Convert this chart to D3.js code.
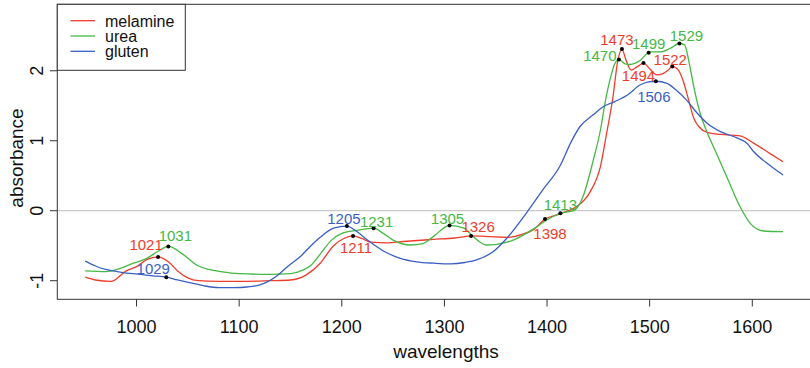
<!DOCTYPE html>
<html>
<head>
<meta charset="utf-8">
<script src="https://cdn.jsdelivr.net/npm/d3@7"></script>
<style>
  body { margin: 0; background: #fff; }
  text { font-family: "Liberation Sans", Arial, Helvetica, sans-serif; }
</style>
</head>
<body>
<div id="app"></div>
<script>
// spectra
var melamineWl  = [950,960,975,990,1000,1010,1021,1031,1040,1050,1060,1080,1100,1130,1150,1165,1179,1192,1203,1211,1220,1228,1244,1260,1289,1310,1327,1345,1361,1375,1387,1398,1410,1419,1429,1442,1452,1458,1464,1469,1473,1477,1482,1488,1494,1500,1507,1513,1518,1522,1528,1533,1538,1543,1548,1556,1569,1588,1601,1617,1630];
var melamineAbs = [-0.95,-0.99,-1.01,-0.86,-0.80,-0.70,-0.66,-0.73,-0.86,-0.96,-1.00,-1.01,-1.01,-1.00,-0.99,-0.92,-0.75,-0.50,-0.39,-0.36,-0.40,-0.45,-0.46,-0.44,-0.41,-0.39,-0.36,-0.37,-0.38,-0.34,-0.27,-0.12,-0.06,-0.01,0.06,0.27,0.63,1.10,1.60,2.15,2.31,2.15,2.01,2.06,2.11,2.03,1.94,1.96,2.01,2.06,2.01,1.84,1.58,1.32,1.20,1.12,1.09,1.07,0.97,0.82,0.70];

var ureaWl  = [950,970,985,997,1010,1021,1031,1045,1059,1070,1082,1100,1130,1150,1162,1170,1179,1190,1199,1215,1231,1240,1250,1267,1279,1290,1305,1319,1328,1341,1351,1367,1387,1400,1412,1426,1435,1445,1452,1457,1462,1466,1470,1476,1481,1491,1500,1510,1520,1529,1534,1538,1543,1549,1556,1565,1575,1588,1598,1611,1630];
var ureaAbs = [-0.86,-0.87,-0.82,-0.75,-0.68,-0.58,-0.51,-0.62,-0.78,-0.84,-0.87,-0.90,-0.91,-0.90,-0.85,-0.78,-0.62,-0.42,-0.33,-0.28,-0.25,-0.32,-0.42,-0.49,-0.47,-0.36,-0.21,-0.25,-0.37,-0.49,-0.48,-0.42,-0.26,-0.13,-0.04,0.00,0.20,0.72,1.15,1.58,1.91,2.10,2.16,2.10,2.09,2.15,2.27,2.27,2.32,2.39,2.37,2.15,1.77,1.40,1.12,0.82,0.49,0.06,-0.18,-0.29,-0.30];

var glutenWl  = [950,960,970,985,1004,1016,1029,1040,1053,1065,1080,1095,1108,1120,1127,1137,1147,1160,1170,1179,1192,1205,1213,1225,1241,1257,1273,1290,1306,1320,1332,1348,1361,1380,1396,1413,1423,1432,1445,1455,1466,1478,1491,1499,1506,1517,1526,1536,1546,1556,1569,1585,1595,1601,1617,1630];
var glutenAbs = [-0.72,-0.79,-0.84,-0.88,-0.91,-0.93,-0.95,-0.99,-1.03,-1.07,-1.10,-1.10,-1.09,-1.06,-1.02,-0.93,-0.80,-0.65,-0.50,-0.38,-0.25,-0.22,-0.28,-0.42,-0.58,-0.68,-0.73,-0.75,-0.76,-0.74,-0.70,-0.58,-0.39,-0.03,0.30,0.65,0.97,1.20,1.37,1.49,1.56,1.65,1.80,1.84,1.85,1.82,1.72,1.58,1.40,1.25,1.13,1.04,0.96,0.85,0.65,0.51];

var melaminePeaks = [1021,1211,1326,1398,1473,1494,1522];
var ureaPeaks     = [1031,1231,1305,1413,1470,1499,1529];
var glutenPeaks   = [1029,1205,1506];

var xTicks = [1000,1100,1200,1300,1400,1500,1600];
var yTicks = [-1,0,1,2];
var seriesNames = ['melamine','urea','gluten'];

// label offsets from the dot (px), same order as the peak arrays
var melamineOff = [[-12,-12],[3,12],[7,-9],[5,14],[-5,-9.5],[-5,13],[-2,-7]];
var ureaOff     = [[7,-11],[3,-7],[-2,-7],[0,-9],[-19,-4],[0,-9],[7,-8]];
var glutenOff   = [[-13,-9],[-3,-8],[-2,15]];

var colors = {melamine:'#ee3d2d', urea:'#45b845', gluten:'#3a5fc4'};

var W = 810, H = 368;
var svg = d3.select('#app').append('svg').attr('width',W).attr('height',H);

var x = d3.scaleLinear().domain([922.8,1657.2]).range([57.3,811]);
var y = d3.scaleLinear().domain([-1.266,2.95]).range([299.3,4.3]);

// zero line
svg.append('line')
  .attr('x1',57.3).attr('x2',811).attr('y1',y(0)).attr('y2',y(0))
  .attr('stroke','#bdbdbd').attr('stroke-width',1);

var series = [
  {name:'melamine', wl:melamineWl, abs:melamineAbs, peaks:melaminePeaks, off:melamineOff},
  {name:'urea',     wl:ureaWl,     abs:ureaAbs,     peaks:ureaPeaks,     off:ureaOff},
  {name:'gluten',   wl:glutenWl,   abs:glutenAbs,   peaks:glutenPeaks,   off:glutenOff}
];

var line = d3.line()
  .x(function(d){return x(d[0])})
  .y(function(d){return y(d[1])})
  .curve(d3.curveMonotoneX);

series.forEach(function(s){
  var pts = s.wl.map(function(w,i){return [w,s.abs[i]]});
  s.interp = function(w){ return d3.scaleLinear().domain(s.wl).range(s.abs)(w); };
  svg.append('path')
    .datum(pts)
    .attr('d',line)
    .attr('fill','none')
    .attr('stroke',colors[s.name])
    .attr('stroke-width',1.3);
});

// peak dots and labels
series.forEach(function(s){
  var g = svg.append('g');
  s.peaks.forEach(function(p,i){
    var px = x(p), py = y(s.interp(p));
    g.append('circle').attr('cx',px).attr('cy',py).attr('r',2).attr('fill','#000');
    g.append('text')
      .attr('x',px + s.off[i][0])
      .attr('y',py + s.off[i][1])
      .attr('dy','0.36em')
      .attr('text-anchor','middle')
      .attr('font-size',15)
      .attr('fill',colors[s.name])
      .text(p);
  });
});

// box
svg.append('rect')
  .attr('x',57.3).attr('y',4.3).attr('width',811-57.3).attr('height',299.3-4.3)
  .attr('fill','none').attr('stroke','#333').attr('stroke-width',1);

// x axis ticks
var xa = svg.append('g');
xTicks.forEach(function(t){
  xa.append('line').attr('x1',x(t)).attr('x2',x(t)).attr('y1',299.3).attr('y2',306.5)
    .attr('stroke','#333');
  xa.append('text').attr('x',x(t)).attr('y',333).attr('text-anchor','middle')
    .attr('font-size',18).attr('fill','#111').text(t);
});
svg.append('text').attr('x',446).attr('y',358).attr('text-anchor','middle')
  .attr('font-size',19).attr('fill','#111').text('wavelengths');

// y axis ticks
var ya = svg.append('g');
yTicks.forEach(function(t){
  ya.append('line').attr('x1',50).attr('x2',57.3).attr('y1',y(t)).attr('y2',y(t))
    .attr('stroke','#333');
  ya.append('text').attr('transform','translate(43,'+y(t)+') rotate(-90)')
    .attr('text-anchor','middle').attr('font-size',18).attr('fill','#111').text(t);
});
svg.append('text').attr('transform','translate(23,158) rotate(-90)')
  .attr('text-anchor','middle').attr('font-size',19).attr('fill','#111').text('absorbance');

// legend
var lg = svg.append('g');
lg.append('rect').attr('x',57.3).attr('y',4.3).attr('width',128).attr('height',66)
  .attr('fill','#fff').attr('stroke','#333');
seriesNames.forEach(function(n,i){
  var yy = 20.7 + i*15.3;
  lg.append('line').attr('x1',70.5).attr('x2',95).attr('y1',yy).attr('y2',yy)
    .attr('stroke',colors[n]).attr('stroke-width',1.3);
  lg.append('text').attr('x',105).attr('y',yy+5.8).attr('font-size',16)
    .attr('fill','#111').text(n);
});
</script>
</body>
</html>
